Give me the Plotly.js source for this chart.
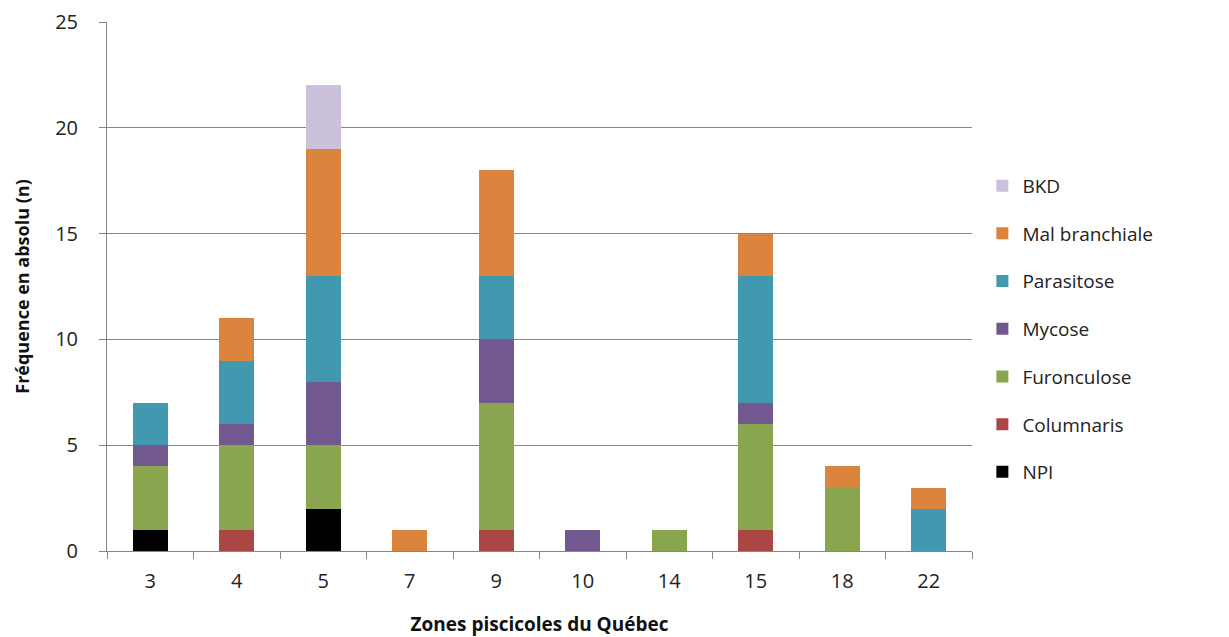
<!DOCTYPE html>
<html><head><meta charset="utf-8">
<script src="https://cdn.plot.ly/plotly-3.0.1.min.js"></script>
<style>body{margin:0;background:#fff}#c{width:1229px;height:637px}</style>
</head><body><div id="c"></div>
<script>
const zones = ["3","4","5","7","9","10","14","15","18","22"];
const npi          = [1,0,2,0,0,0,0,0,0,0];
const columnaris   = [0,1,0,0,1,0,0,1,0,0];
const furonculose  = [3,4,3,0,6,0,1,5,3,0];
const mycose       = [1,1,3,0,3,1,0,1,0,0];
const parasitose   = [2,3,5,0,3,0,0,6,0,2];
const malBranch    = [0,2,6,1,5,0,0,2,1,1];
const bkd          = [0,0,3,0,0,0,0,0,0,0];
const yTicks = [0,5,10,15,20,25];

const series = [
  ["NPI", npi, "#000000"],
  ["Columnaris", columnaris, "#AA4643"],
  ["Furonculose", furonculose, "#89A54E"],
  ["Mycose", mycose, "#71588F"],
  ["Parasitose", parasitose, "#4198AF"],
  ["Mal branchiale", malBranch, "#DB843D"],
  ["BKD", bkd, "#CCC1DA"]
];
const font = "Open Sans, Noto Sans, Liberation Sans, sans-serif";
const data = series.map((s,i)=>({
  type:"bar", name:s[0], x:zones, y:s[1], legendgroup:"g"+i, legendrank:100-i,
  marker:{color:s[2], line:{width:0}}, hoverinfo:"name+y"
}));
const layout = {
  barmode:"stack", bargap:0.6,
  margin:{l:107,r:257,t:22,b:86},
  paper_bgcolor:"#fff", plot_bgcolor:"#fff",
  font:{family:font, size:19, color:"#222"},
  xaxis:{type:"category", tickson:"boundaries", ticks:"outside", ticklen:7, tickcolor:"#868686",
    showline:true, linecolor:"#868686", linewidth:1, showgrid:false, ticklabelstandoff:12,
    tickfont:{size:20, color:"#222"},
    title:{text:"<b>Zones piscicoles du Québec</b>", font:{size:19, color:"#111"}, standoff:24}},
  yaxis:{range:[0,25], tickvals:yTicks, ticks:"outside", ticklen:7, tickcolor:"#868686",
    showline:true, linecolor:"#868686", linewidth:1, showgrid:true, gridcolor:"#868686", gridwidth:1,
    zeroline:false, tickfont:{size:20, color:"#222"}, ticklabelstandoff:17,
    title:{text:"<b>Fréquence en absolu (n)</b>", font:{size:18, color:"#111"}, standoff:20}},
  legend:{x:1.012, xanchor:"left", y:0.42, yanchor:"middle", traceorder:"grouped",
    tracegroupgap:20, font:{size:19, color:"#222"}, itemwidth:30},
  showlegend:true
};
Plotly.newPlot("c", data, layout, {displayModeBar:false, staticPlot:true});
</script></body></html>
